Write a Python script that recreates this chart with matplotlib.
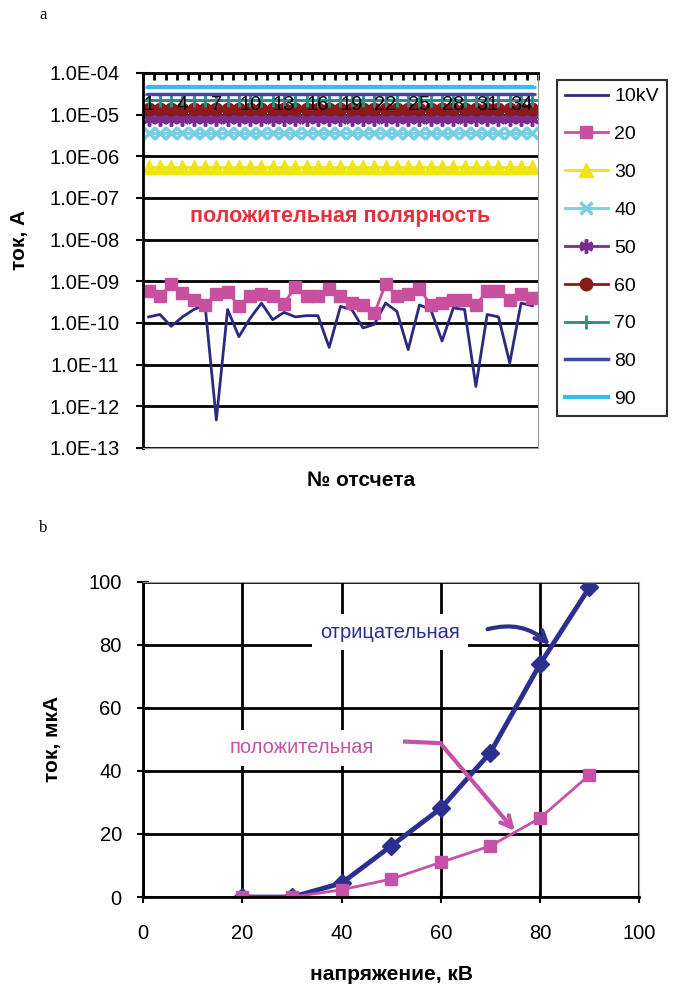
import matplotlib
matplotlib.use("Agg")
import matplotlib.pyplot as plt
from matplotlib.ticker import FixedLocator, FuncFormatter, NullLocator

plt.rcParams['font.family'] = ['Liberation Sans', 'DejaVu Sans']

# --- панель a: ток по номерам отсчетов, лог. шкала ---
samples = list(range(1, 36))
sample_labels = [1, 4, 7, 10, 13, 16, 19, 22, 25, 28, 31, 34]

i10 = [1.4e-10, 1.6e-10, 8.3e-11, 1.4e-10, 2.1e-10, 2.7e-10, 4.7e-13, 2.1e-10, 4.7e-11, 1.3e-10,
       3.0e-10, 1.2e-10, 1.8e-10, 1.4e-10, 1.5e-10, 1.5e-10, 2.6e-11, 2.5e-10, 2.1e-10, 7.6e-11,
       9.3e-11, 3.0e-10, 1.9e-10, 2.3e-11, 2.7e-10, 2.1e-10, 3.7e-11, 2.3e-10, 2.1e-10, 3.0e-12,
       1.6e-10, 1.4e-10, 1.1e-11, 3.0e-10, 2.6e-10]
i20 = [5.9e-10, 4.4e-10, 8.5e-10, 5.3e-10, 3.6e-10, 2.7e-10, 5.1e-10, 5.5e-10, 2.6e-10, 4.4e-10,
       5.1e-10, 4.4e-10, 2.9e-10, 7.5e-10, 4.4e-10, 4.4e-10, 6.4e-10, 4.4e-10, 3.1e-10, 2.7e-10,
       1.7e-10, 8.5e-10, 4.4e-10, 5.1e-10, 6.7e-10, 2.7e-10, 3.1e-10, 3.6e-10, 3.5e-10, 2.7e-10,
       5.9e-10, 5.9e-10, 3.6e-10, 5.1e-10, 4.0e-10]
i30 = [5.5e-7, 5.5e-7, 5.5e-7, 5.5e-7, 5.5e-7, 5.5e-7, 5.5e-7, 5.5e-7, 5.5e-7, 5.5e-7,
       5.5e-7, 5.5e-7, 5.5e-7, 5.5e-7, 5.5e-7, 5.5e-7, 5.5e-7, 5.5e-7, 5.5e-7, 5.5e-7,
       5.5e-7, 5.5e-7, 5.5e-7, 5.5e-7, 5.5e-7, 5.5e-7, 5.5e-7, 5.5e-7, 5.5e-7, 5.5e-7,
       5.5e-7, 5.5e-7, 5.5e-7, 5.5e-7, 5.5e-7]
i40 = [3.7e-6, 3.7e-6, 3.7e-6, 3.7e-6, 3.7e-6, 3.7e-6, 3.7e-6, 3.7e-6, 3.7e-6, 3.7e-6,
       3.7e-6, 3.7e-6, 3.7e-6, 3.7e-6, 3.7e-6, 3.7e-6, 3.7e-6, 3.7e-6, 3.7e-6, 3.7e-6,
       3.7e-6, 3.7e-6, 3.7e-6, 3.7e-6, 3.7e-6, 3.7e-6, 3.7e-6, 3.7e-6, 3.7e-6, 3.7e-6,
       3.7e-6, 3.7e-6, 3.7e-6, 3.7e-6, 3.7e-6]
i50 = [7.9e-6, 7.9e-6, 7.9e-6, 7.9e-6, 7.9e-6, 7.9e-6, 7.9e-6, 7.9e-6, 7.9e-6, 7.9e-6,
       7.9e-6, 7.9e-6, 7.9e-6, 7.9e-6, 7.9e-6, 7.9e-6, 7.9e-6, 7.9e-6, 7.9e-6, 7.9e-6,
       7.9e-6, 7.9e-6, 7.9e-6, 7.9e-6, 7.9e-6, 7.9e-6, 7.9e-6, 7.9e-6, 7.9e-6, 7.9e-6,
       7.9e-6, 7.9e-6, 7.9e-6, 7.9e-6, 7.9e-6]
i60 = [1.35e-5, 1.35e-5, 1.35e-5, 1.35e-5, 1.35e-5, 1.35e-5, 1.35e-5, 1.35e-5, 1.35e-5, 1.35e-5,
       1.35e-5, 1.35e-5, 1.35e-5, 1.35e-5, 1.35e-5, 1.35e-5, 1.35e-5, 1.35e-5, 1.35e-5, 1.35e-5,
       1.35e-5, 1.35e-5, 1.35e-5, 1.35e-5, 1.35e-5, 1.35e-5, 1.35e-5, 1.35e-5, 1.35e-5, 1.35e-5,
       1.35e-5, 1.35e-5, 1.35e-5, 1.35e-5, 1.35e-5]
i70 = [2.2e-5, 2.2e-5, 2.2e-5, 2.2e-5, 2.2e-5, 2.2e-5, 2.2e-5, 2.2e-5, 2.2e-5, 2.2e-5,
       2.2e-5, 2.2e-5, 2.2e-5, 2.2e-5, 2.2e-5, 2.2e-5, 2.2e-5, 2.2e-5, 2.2e-5, 2.2e-5,
       2.2e-5, 2.2e-5, 2.2e-5, 2.2e-5, 2.2e-5, 2.2e-5, 2.2e-5, 2.2e-5, 2.2e-5, 2.2e-5,
       2.2e-5, 2.2e-5, 2.2e-5, 2.2e-5, 2.2e-5]
i80 = [3.2e-5, 3.2e-5, 3.2e-5, 3.2e-5, 3.2e-5, 3.2e-5, 3.2e-5, 3.2e-5, 3.2e-5, 3.2e-5,
       3.2e-5, 3.2e-5, 3.2e-5, 3.2e-5, 3.2e-5, 3.2e-5, 3.2e-5, 3.2e-5, 3.2e-5, 3.2e-5,
       3.2e-5, 3.2e-5, 3.2e-5, 3.2e-5, 3.2e-5, 3.2e-5, 3.2e-5, 3.2e-5, 3.2e-5, 3.2e-5,
       3.2e-5, 3.2e-5, 3.2e-5, 3.2e-5, 3.2e-5]
i90 = [4.6e-5, 4.6e-5, 4.6e-5, 4.6e-5, 4.6e-5, 4.6e-5, 4.6e-5, 4.6e-5, 4.6e-5, 4.6e-5,
       4.6e-5, 4.6e-5, 4.6e-5, 4.6e-5, 4.6e-5, 4.6e-5, 4.6e-5, 4.6e-5, 4.6e-5, 4.6e-5,
       4.6e-5, 4.6e-5, 4.6e-5, 4.6e-5, 4.6e-5, 4.6e-5, 4.6e-5, 4.6e-5, 4.6e-5, 4.6e-5,
       4.6e-5, 4.6e-5, 4.6e-5, 4.6e-5, 4.6e-5]

series_names = ['10kV', '20', '30', '40', '50', '60', '70', '80', '90']
log_ticks = [1e-4, 1e-5, 1e-6, 1e-7, 1e-8, 1e-9, 1e-10, 1e-11, 1e-12, 1e-13]

# --- панель b: ток от напряжения ---
voltage = [20, 30, 40, 50, 60, 70, 80, 90]
neg_current = [0, 0, 4.4, 16.2, 28.1, 45.8, 73.8, 98.2]
pos_current = [0, 0, 2.3, 5.7, 11.0, 16.2, 25.0, 38.7]
lin_ticks = [0, 20, 40, 60, 80, 100]

fig = plt.figure(figsize=(6.76, 9.85), dpi=100)

# ============ a ============
ax1 = fig.add_axes([0.2115, 0.5452, 0.5843, 0.3807])
ax1.set_yscale('log')

styles = [
    dict(color='#2B2A7E', lw=2.0, marker=None),
    dict(color='#C9509F', lw=2.0, marker='s', ms=8.5),
    dict(color='#EEE512', lw=2.0, marker='^', ms=10),
    dict(color='#77CDE3', lw=2.0, marker='x', ms=9, mew=2.5),
    dict(color='#7A2B8B', lw=2.0, marker=(6, 2, 0), ms=10, mew=2.5),
    dict(color='#8B1A1A', lw=2.0, marker='o', ms=9),
    dict(color='#2E8B85', lw=2.0, marker='+', ms=10, mew=2),
    dict(color='#3A4DA6', lw=2.5, marker='_', ms=6, mew=2),
    dict(color='#3CB9E9', lw=3.0, marker='_', ms=6, mew=2),
]
all_series = [i10, i20, i30, i40, i50, i60, i70, i80, i90]
for name, vals, st in zip(series_names, all_series, styles):
    ax1.plot(samples, vals, label=name, **st)

ax1.set_xlim(0.5, 35.5)
ax1.set_ylim(1e-13, 1e-4)
ax1.yaxis.set_major_locator(FixedLocator(log_ticks))
ax1.yaxis.set_minor_locator(NullLocator())
ax1.yaxis.set_major_formatter(FuncFormatter(lambda v, p: f"{v:.1E}"))
ax1.grid(axis='y', color='black', lw=2)
ax1.set_axisbelow(True)
ax1.tick_params(axis='y', direction='inout', length=10, width=1.5, labelsize=14.5, pad=12)

# деления категорий сверху, подписи внутри области
ax1.xaxis.set_major_locator(FixedLocator([k + 0.5 for k in range(0, 36)]))
ax1.xaxis.set_minor_locator(NullLocator())
ax1.tick_params(axis='x', top=True, bottom=False, labeltop=False, labelbottom=False,
                direction='in', length=5, width=2)
for s in sample_labels:
    ax1.text(s, 0.915, str(s), transform=ax1.get_xaxis_transform(),
             ha='center', va='center', fontsize=14.5, color='black')

ax1.spines['left'].set_color('black')
ax1.spines['left'].set_linewidth(2)
ax1.spines['top'].set_color('black')
ax1.spines['top'].set_linewidth(2)
ax1.spines['right'].set_color('#999999')
ax1.spines['bottom'].set_color('#999999')

ax1.text(0.5, 0.616, 'положительная полярность', transform=ax1.transAxes,
         ha='center', va='center', fontsize=15.5, fontweight='bold', color='#E8313C')

ax1.set_ylabel('ток, А', fontsize=15, fontweight='bold')
ax1.yaxis.set_label_coords(-0.289, 0.555)

fig.text(361 / 676, 1 - 480 / 985, '№ отсчета', ha='center', va='center',
         fontsize=15, fontweight='bold')

leg = ax1.legend(loc='upper left', bbox_to_anchor=(557 / 676, 1 - 80 / 985),
                 bbox_transform=fig.transFigure, frameon=True, fancybox=False,
                 edgecolor='black', fontsize=14, handlelength=2.2, handletextpad=0.35,
                 labelspacing=1.04, borderpad=0.4, borderaxespad=0)
leg.get_frame().set_linewidth(1.5)

fig.text(43 / 676, 1 - 15 / 985, 'a', ha='center', va='center', fontsize=12,
         family='Liberation Serif')

# ============ b ============
ax2 = fig.add_axes([0.212, 0.0893, 0.7333, 0.3201])
ax2.plot(voltage, neg_current, color='#2B2F8F', lw=3.5, marker='D', ms=9)
ax2.plot(voltage, pos_current, color='#C652A8', lw=2, marker='s', ms=9)
ax2.set_xlim(0, 100)
ax2.set_ylim(0, 100)
ax2.set_xticks(lin_ticks)
ax2.set_yticks(lin_ticks)
ax2.grid(True, color='black', lw=2)
ax2.set_axisbelow(True)
ax2.tick_params(axis='both', direction='inout', length=9, width=1.5, labelsize=14.5)
ax2.tick_params(axis='y', pad=11)
ax2.tick_params(axis='x', pad=15)
ax2.spines['left'].set_color('black')
ax2.spines['left'].set_linewidth(2)
ax2.spines['bottom'].set_color('black')
ax2.spines['bottom'].set_linewidth(2)
ax2.spines['right'].set_color('#999999')
ax2.spines['top'].set_color('#999999')

ax2.text(49.8, 84, 'отрицательная', color='#2B2F8F', fontsize=14.5, ha='center', va='center',
         bbox=dict(facecolor='white', edgecolor='none', pad=6), zorder=5)
ax2.annotate('', xy=(82.4, 79.3), xytext=(68.9, 84.7),
             arrowprops=dict(arrowstyle='->,head_length=0.8,head_width=0.4', color='#2B2F8F',
                             lw=3, connectionstyle='arc3,rad=-0.3'), zorder=6)

ax2.text(32, 47.3, 'положительная', color='#C652A8', fontsize=14.5, ha='center', va='center',
         bbox=dict(facecolor='white', edgecolor='none', pad=6), zorder=5)
ax2.plot([52.8, 59.9], [49.3, 48.8], color='#C652A8', lw=3, zorder=6)
ax2.annotate('', xy=(75.3, 20.3), xytext=(59.9, 48.8),
             arrowprops=dict(arrowstyle='->,head_length=0.8,head_width=0.4', color='#C652A8',
                             lw=3), zorder=6)

ax2.set_xlabel('напряжение, кВ', fontsize=15, fontweight='bold', labelpad=16)
ax2.set_ylabel('ток, мкА', fontsize=15, fontweight='bold')
ax2.yaxis.set_label_coords(-0.164, 0.5)

fig.text(43 / 676, 1 - 528 / 985, 'b', ha='center', va='center', fontsize=12,
         family='Liberation Serif')

fig.savefig('out.png', dpi=100)
